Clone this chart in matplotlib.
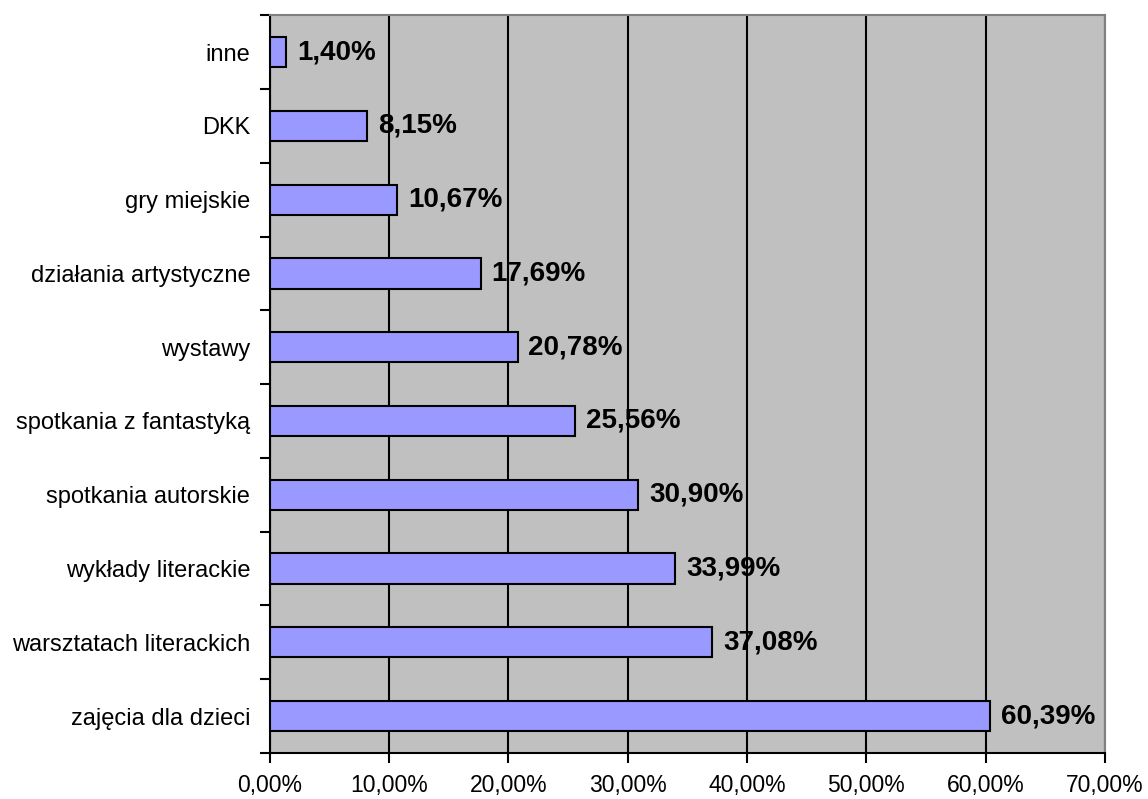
import matplotlib.pyplot as plt
from matplotlib.ticker import FixedLocator

categories = ['zajęcia dla dzieci', 'warsztatach literackich', 'wykłady literackie',
              'spotkania autorskie', 'spotkania z fantastyką', 'wystawy',
              'działania artystyczne', 'gry miejskie', 'DKK', 'inne']
values = [60.39, 37.08, 33.99, 30.90, 25.56, 20.78, 17.69, 10.67, 8.15, 1.40]
xticks = [0, 10, 20, 30, 40, 50, 60, 70]

plt.rcParams['font.family'] = ['Liberation Sans', 'DejaVu Sans']

fig = plt.figure(figsize=(11.48, 7.99), dpi=100)
ax = fig.add_axes([0.235, 0.0576, 0.9626 - 0.235, 0.981 - 0.0576])
ax.set_facecolor('#C0C0C0')

pos = list(range(len(categories)))
ax.barh(pos, values, height=0.41, color='#9999FF', edgecolor='black', linewidth=1.5, zorder=3)

for p, v in zip(pos, values):
    ax.text(v + 0.9, p, ('%.2f%%' % v).replace('.', ','), va='center', ha='left',
            fontsize=20, fontweight='bold', zorder=4)

ax.set_xlim(0, 70)
ax.set_ylim(-0.5, len(categories) - 0.5)
ax.set_xticks(xticks)
ax.set_xticklabels([('%.2f%%' % t).replace('.', ',') for t in xticks], fontsize=16.5)
ax.xaxis.grid(True, color='black', linewidth=1.5, zorder=1)
ax.set_axisbelow(True)

ax.set_yticks(pos)
ax.set_yticklabels(categories, fontsize=17)
ax.tick_params(axis='y', which='major', length=0, pad=14)
ax.yaxis.set_minor_locator(FixedLocator([p - 0.5 for p in pos] + [len(pos) - 0.5]))
ax.tick_params(axis='y', which='minor', length=7, width=1.5, direction='out')
ax.tick_params(axis='x', length=7, width=1.5, direction='out', pad=8)

for s in ['top', 'right']:
    ax.spines[s].set_color('#808080')
    ax.spines[s].set_linewidth(1.5)
for s in ['left', 'bottom']:
    ax.spines[s].set_color('black')
    ax.spines[s].set_linewidth(1.5)

fig.savefig('out.png', dpi=100)
